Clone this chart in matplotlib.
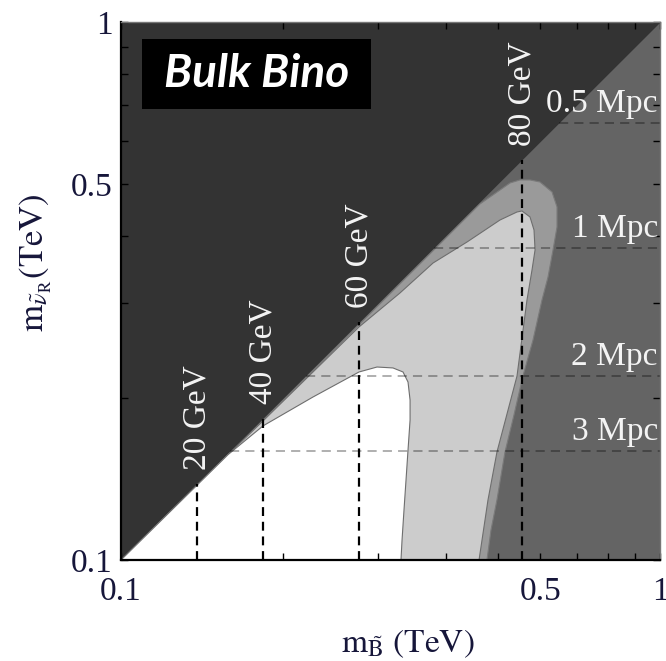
import numpy as np
import matplotlib
matplotlib.use('Agg')
import matplotlib.pyplot as plt
from matplotlib.patches import Polygon, Rectangle
import matplotlib.ticker as mticker

plt.rcParams['mathtext.fontset'] = 'stix'
plt.rcParams['font.family'] = ['Liberation Serif', 'DejaVu Serif']

# ---------------- data (TeV) ----------------
# outer contour (medium gray region)
outer_x = [0.1, 0.4634, 0.5048, 0.527, 0.5498, 0.5739, 0.5989, 0.6305, 0.6441, 0.6441,
           0.6332, 0.6198, 0.604, 0.5813, 0.5568, 0.5359, 0.5157, 0.4983, 0.4858, 0.4775]
outer_y = [0.099, 0.4589, 0.4872, 0.5021, 0.5086, 0.5086, 0.5042, 0.4831, 0.4531, 0.4159,
           0.3770, 0.3357, 0.3042, 0.2564, 0.2198, 0.1860, 0.1587, 0.1293, 0.1137, 0.1]
# middle contour (light gray region)
mid_x = [0.1, 0.158, 0.1834, 0.2271, 0.2764, 0.3292, 0.3793, 0.4385, 0.5048, 0.5429,
         0.5546, 0.5739, 0.5838, 0.5864, 0.5788, 0.5665, 0.5429, 0.4983, 0.4796, 0.4616]
mid_y = [0.1, 0.157, 0.1813, 0.2236, 0.2711, 0.3135, 0.3565, 0.3900, 0.4285, 0.4435,
         0.4454, 0.4341, 0.4106, 0.3770, 0.3459, 0.3042, 0.2198, 0.1587, 0.1293, 0.1]
# inner contour (white region)
in_x = [0.1, 0.158, 0.1834, 0.2271, 0.2764, 0.2985, 0.3196, 0.3336, 0.3408, 0.3438,
        0.3438, 0.3408, 0.3379, 0.3350, 0.3322, 0.3307]
in_y = [0.1, 0.157, 0.1775, 0.2009, 0.2236, 0.2284, 0.2275, 0.2236, 0.2142, 0.1983,
        0.1820, 0.1601, 0.1408, 0.1239, 0.1089, 0.1]

# vertical dashed lines (bino-sneutrino mass gap)
gev_x = [0.1384, 0.1835, 0.2765, 0.5546]
gev_labels = ['20 GeV', '40 GeV', '60 GeV', '80 GeV']

# horizontal dashed lines (free-streaming length)
mpc_y = [0.649, 0.380, 0.220, 0.1594]
mpc_labels = ['0.5 Mpc', '1 Mpc', '2 Mpc', '3 Mpc']

# ticks
x_major = [0.1, 0.6, 1.0]
x_major_labels = ['0.1', '0.5', '1']
x_minor = [0.2, 0.3, 0.4, 0.5, 0.7, 0.8, 0.9]
y_major = [0.1, 0.5, 1.0]
y_major_labels = ['0.1', '0.5', '1']
y_minor = [0.2, 0.3, 0.4, 0.6, 0.7, 0.8, 0.9]

# ---------------- figure ----------------
fig = plt.figure(figsize=(6.66, 6.61), dpi=100)
ax = fig.add_axes([121/666, 1-560/661, 539/666, 538/661])
ax.set_xscale('log')
ax.set_yscale('log')
ax.set_xlim(0.1, 1)
ax.set_ylim(0.1, 1)
ax.set_facecolor('#646464')

# region above diagonal
ax.fill_between([0.1, 1.0], [0.1, 1.0], [1.0, 1.0], color='#333333', lw=0, zorder=1)

ax.add_patch(Polygon(np.column_stack([outer_x, outer_y]), closed=True,
                     facecolor='#9a9a9a', edgecolor='#7a7a7a', lw=0.8, zorder=1.1))
ax.add_patch(Polygon(np.column_stack([mid_x, mid_y]), closed=True,
                     facecolor='#cccccc', edgecolor='#6e6e6e', lw=0.8, zorder=1.2))
ax.add_patch(Polygon(np.column_stack([in_x, in_y]), closed=True,
                     facecolor='#ffffff', edgecolor='#6e6e6e', lw=0.8, zorder=1.3))

# horizontal dashed lines
for yv, lbl in zip(mpc_y, mpc_labels):
    ax.plot([yv, 1.0], [yv, yv], color='black', alpha=0.4, lw=1.1,
            dashes=(6, 4), zorder=1.5)
    ax.annotate(lbl, xy=(0.996, yv), xycoords=('axes fraction', 'data'),
                xytext=(0, 3), textcoords='offset points', ha='right', va='bottom',
                color='#f4f4f4', fontsize=24, zorder=3)

# vertical dashed lines
for xv, lbl in zip(gev_x, gev_labels):
    ax.plot([xv, xv], [0.1, xv], color='black', lw=1.6, dashes=(4, 2.6), zorder=1.6)
    ax.annotate(lbl, xy=(xv, xv), xytext=(0, 10), textcoords='offset points',
                rotation=90, ha='center', va='bottom', color='#f4f4f4',
                fontsize=24, zorder=3)

# title box
ax.add_patch(Rectangle((0.039, 0.838), 0.425, 0.130, transform=ax.transAxes,
                       facecolor='black', edgecolor='none', zorder=4))
ax.text(0.2514, 0.903, 'Bulk Bino', transform=ax.transAxes, ha='center', va='center',
        color='white', fontsize=33, fontweight='bold', fontstyle='italic',
        family=['Lato', 'DejaVu Sans'], zorder=5)

# ticks
ax.xaxis.set_major_locator(mticker.FixedLocator(x_major))
ax.xaxis.set_major_formatter(mticker.FixedFormatter(x_major_labels))
ax.xaxis.set_minor_locator(mticker.FixedLocator(x_minor))
ax.xaxis.set_minor_formatter(mticker.NullFormatter())
ax.yaxis.set_major_locator(mticker.FixedLocator(y_major))
ax.yaxis.set_major_formatter(mticker.FixedFormatter(y_major_labels))
ax.yaxis.set_minor_locator(mticker.FixedLocator(y_minor))
ax.yaxis.set_minor_formatter(mticker.NullFormatter())
ax.tick_params(which='both', direction='in', top=True, right=True,
               length=5, width=1, color='black', labelsize=24, labelcolor='#16163a')
ax.tick_params(axis='x', which='major', pad=12)
ax.tick_params(axis='y', which='major', pad=6)

for s in ['left', 'bottom']:
    ax.spines[s].set_linewidth(1.6)
    ax.spines[s].set_color('black')
for s in ['top', 'right']:
    ax.spines[s].set_linewidth(1.0)
    ax.spines[s].set_color('#777777')

fig.text(408/666, 1-644/661, r'$\mathrm{m}_{\tilde{\mathrm{B}}}\ \mathrm{(TeV)}$',
         ha='center', va='center', fontsize=24, color='#16163a')
fig.text(36/666, 1-263/661, r'$\mathrm{m}_{\tilde{\nu}_{\mathrm{R}}}\mathrm{(TeV)}$',
         ha='center', va='center', fontsize=25, rotation=90, color='#16163a')

fig.savefig('out.png', dpi=100)
